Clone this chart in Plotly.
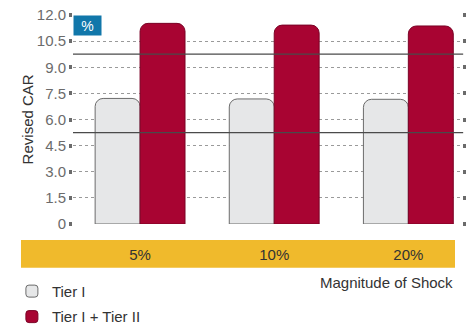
import plotly.graph_objects as go

categories = ["5%", "10%", "20%"]
tier1 = [7.21, 7.18, 7.16]
tier1_2 = [11.52, 11.42, 11.37]
threshold_lines = [9.75, 5.25]
y_ticks = [0, 1.5, 3.0, 4.5, 6.0, 7.5, 9.0, 10.5, 12.0]
y_tick_labels = ["0", "1.5", "3.0", "4.5", "6.0", "7.5", "9.0", "10.5", "12.0"]

FONT = "Liberation Sans, Arial, sans-serif"
x_idx = list(range(len(categories)))

fig = go.Figure()
fig.add_trace(go.Bar(
    x=x_idx, y=tier1, name="Tier I", legendgroup="a",
    marker=dict(color="#E6E7E8", line=dict(color="#6b6b6b", width=1)),
))
fig.add_trace(go.Bar(
    x=x_idx, y=tier1_2, name="Tier I + Tier II", legendgroup="b",
    marker=dict(color="#A80432", line=dict(color="#7a0225", width=1)),
))

shapes = []
for v in threshold_lines:
    shapes.append(dict(type="line", xref="paper", yref="y", x0=0, x1=1.003, y0=v, y1=v,
                       line=dict(color="#4a4a4a", width=1.3), layer="above"))
shapes.append(dict(type="rect", xref="paper", yref="paper", x0=-0.1337, x1=0.982,
                   y0=-0.077, y1=-0.209, fillcolor="#F0BA2C", line=dict(width=0), layer="below"))

fig.update_layout(
    width=476, height=328,
    margin=dict(l=73, r=14, t=15, b=104, autoexpand=False),
    paper_bgcolor="white", plot_bgcolor="white",
    barmode="group", bargap=0.33, bargroupgap=0, barcornerradius=8,
    font=dict(family=FONT, size=14, color="#333"),
    showlegend=True,
    legend=dict(xref="container", yref="container", x=0.025, y=0.162,
                xanchor="left", yanchor="top", orientation="v",
                tracegroupgap=3, font=dict(size=15, color="#333"), bgcolor="rgba(0,0,0,0)"),
    shapes=shapes,
    xaxis=dict(
        range=[-0.5, 2.4], tickmode="array", tickvals=x_idx, ticktext=categories,
        showgrid=False, zeroline=False, showline=False, ticks="",
        ticklabelstandoff=20, tickfont=dict(size=15, color="#333"),
    ),
    yaxis=dict(
        range=[0, 12.0], tickmode="array", tickvals=y_ticks, ticktext=y_tick_labels,
        showgrid=True, gridcolor="#9a9a9a", griddash="dot", gridwidth=1,
        zeroline=False, showline=False,
        ticks="outside", ticklen=3, tickwidth=4, tickcolor="#6b6b6b", mirror="ticks",
        tickfont=dict(size=15, color="#6b6b6b"),
    ),
    annotations=[
        dict(text="%", xref="paper", yref="paper", x=0, y=1, xanchor="left", yanchor="top",
             showarrow=False, bgcolor="#1177AA", font=dict(color="white", size=14),
             width=25, height=17),
        dict(text="Revised CAR", xref="paper", yref="paper", x=-0.116, y=0.5,
             xanchor="center", yanchor="middle", textangle=-90, showarrow=False,
             font=dict(size=15, color="#333")),
        dict(text="Magnitude of Shock", xref="paper", yref="paper", x=0.982, y=-0.278,
             xanchor="right", yanchor="middle", showarrow=False,
             font=dict(size=15, color="#333")),
    ],
)

fig.write_html("out.html")
